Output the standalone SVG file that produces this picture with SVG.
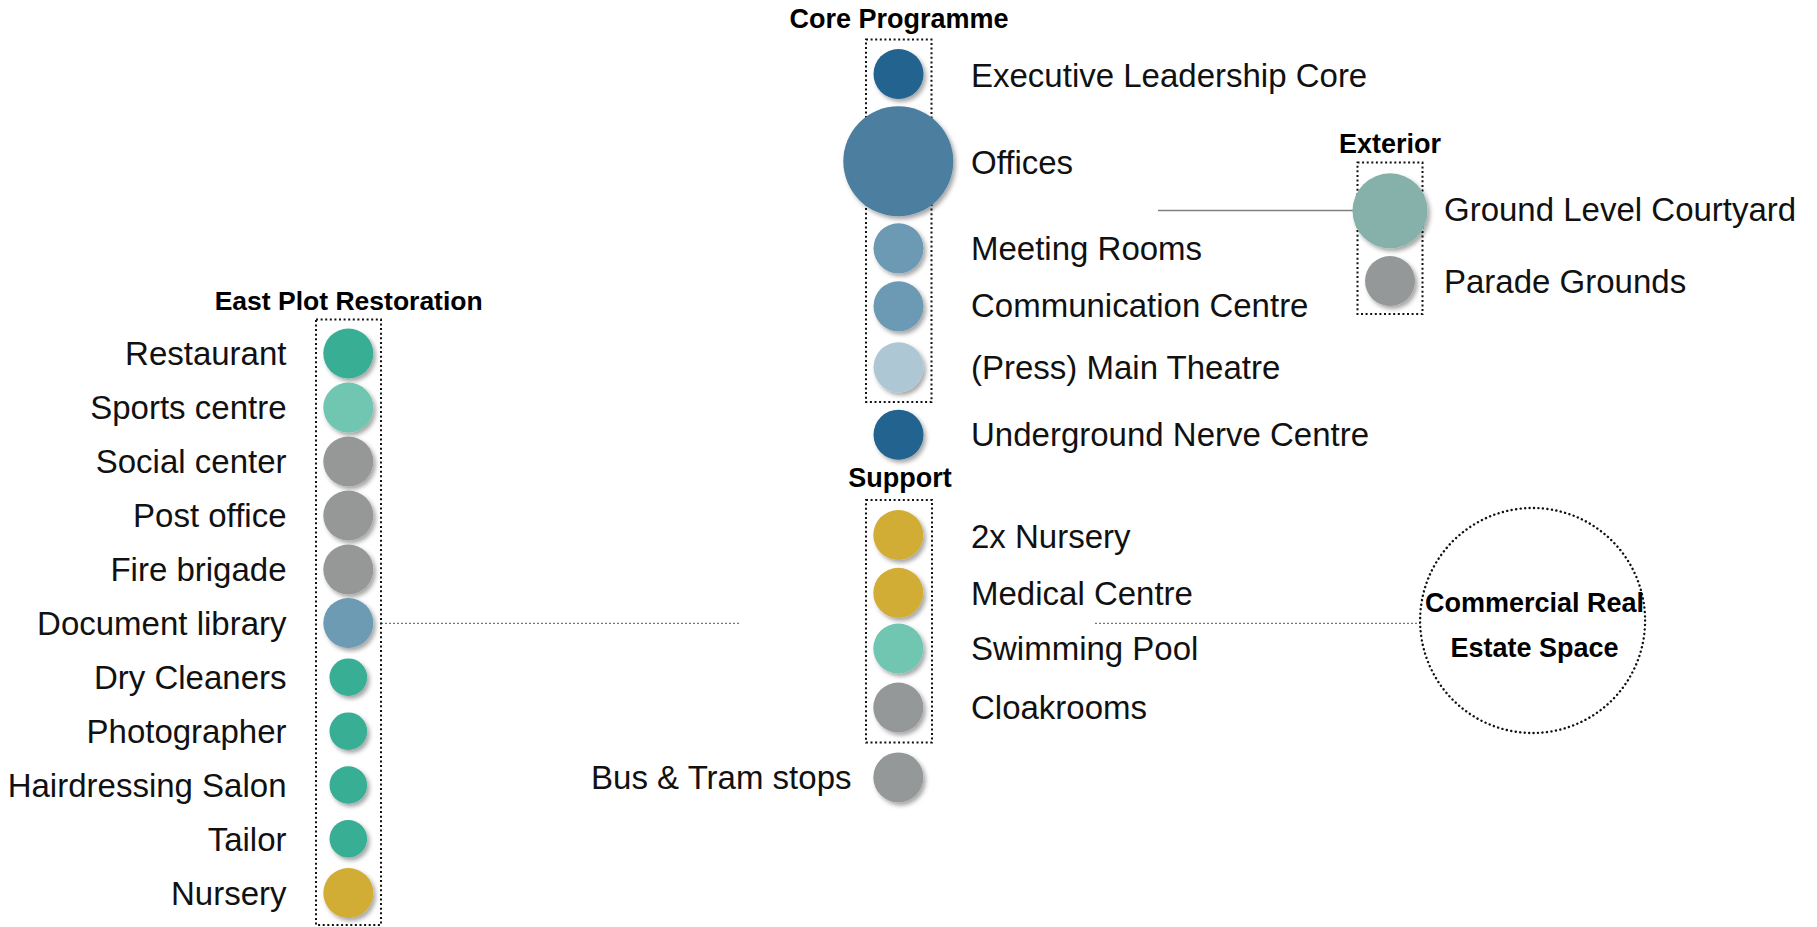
<svg xmlns="http://www.w3.org/2000/svg" width="1817" height="927" viewBox="0 0 1817 927">
<style>
.lbl{font-family:"Liberation Sans",Arial,sans-serif;font-size:33px;fill:#111}
.hdr{font-family:"Liberation Sans",Arial,sans-serif;font-size:27px;font-weight:bold;fill:#000;text-anchor:middle}
.end{text-anchor:end}
.box{fill:none;stroke:#111;stroke-width:2;stroke-dasharray:2 2.6}
.dot{filter:url(#sh)}
.conn{fill:none;stroke:#777;stroke-width:1.3;stroke-dasharray:2 2}
</style>
<defs>
<filter id="sh" x="-30%" y="-30%" width="160%" height="160%">
<feDropShadow dx="2.5" dy="3" stdDeviation="2" flood-color="#000" flood-opacity="0.35"/>
</filter>
</defs>
<rect width="1817" height="927" fill="#fff"/>

<g id="connectors">
<line x1="1158" y1="210.5" x2="1353" y2="210.5" stroke="#808080" stroke-width="1.6"/>
<line class="conn" x1="381" y1="623.3" x2="741" y2="623.3"/>
<line class="conn" x1="1095" y1="623.3" x2="1420" y2="623.3"/>
</g>

<g id="core-programme">
<text class="hdr" x="899" y="28">Core Programme</text>
<rect class="box" x="866" y="39.5" width="65.5" height="362.5"/>
<g id="exec"><circle class="dot" cx="898.5" cy="74" r="25" fill="#20638f"/><text class="lbl" x="971" y="87">Executive Leadership Core</text></g>
<g id="offices"><circle class="dot" cx="898.3" cy="161.3" r="55" fill="#4b7e9f"/><text class="lbl" x="971" y="173.5">Offices</text></g>
<g id="meeting"><circle class="dot" cx="898.5" cy="248.3" r="25" fill="#6c99b3"/><text class="lbl" x="971" y="259.5">Meeting Rooms</text></g>
<g id="communication"><circle class="dot" cx="898.5" cy="306.3" r="25" fill="#6c99b3"/><text class="lbl" x="971" y="317">Communication Centre</text></g>
<g id="theatre"><circle class="dot" cx="898.5" cy="367.3" r="25" fill="#adc7d5"/><text class="lbl" x="971" y="378.5">(Press) Main Theatre</text></g>
</g>
<g id="underground"><circle class="dot" cx="898.5" cy="434.7" r="25" fill="#20638f"/><text class="lbl" x="971" y="445.5">Underground Nerve Centre</text></g>

<g id="exterior">
<text class="hdr" x="1390" y="153">Exterior</text>
<rect class="box" x="1357.5" y="162.5" width="65" height="151.5"/>
<g id="courtyard"><circle class="dot" cx="1390" cy="210.8" r="37.5" fill="#86b1ab"/><text class="lbl" x="1444" y="221">Ground Level Courtyard</text></g>
<g id="parade"><circle class="dot" cx="1390" cy="281" r="25" fill="#959898"/><text class="lbl" x="1444" y="293">Parade Grounds</text></g>
</g>

<g id="east-plot">
<text class="hdr" x="348.7" y="310" style="font-size:26.5px">East Plot Restoration</text>
<rect class="box" x="316" y="319.5" width="65" height="605.5"/>
<g id="restaurant"><circle class="dot" cx="348.3" cy="353.5" r="25" fill="#38ae95"/><text class="lbl end" x="286.5" y="364.5">Restaurant</text></g>
<g id="sports"><circle class="dot" cx="348.3" cy="407.6" r="25" fill="#6fc6b0"/><text class="lbl end" x="286.5" y="418.5">Sports centre</text></g>
<g id="social"><circle class="dot" cx="348.3" cy="461.5" r="25" fill="#959896"/><text class="lbl end" x="286.5" y="472.5">Social center</text></g>
<g id="post"><circle class="dot" cx="348.3" cy="515.5" r="25" fill="#959896"/><text class="lbl end" x="286.5" y="527">Post office</text></g>
<g id="fire"><circle class="dot" cx="348.3" cy="569.5" r="25" fill="#959896"/><text class="lbl end" x="286.5" y="580.5">Fire brigade</text></g>
<g id="document"><circle class="dot" cx="348.3" cy="623" r="25" fill="#6e9bb4"/><text class="lbl end" x="286.5" y="634.5">Document library</text></g>
<g id="dry"><circle class="dot" cx="348.3" cy="677.2" r="18.8" fill="#38ae95"/><text class="lbl end" x="286.5" y="688.5">Dry Cleaners</text></g>
<g id="photo"><circle class="dot" cx="348.3" cy="731.2" r="18.8" fill="#38ae95"/><text class="lbl end" x="286.5" y="742.5">Photographer</text></g>
<g id="hair"><circle class="dot" cx="348.3" cy="785" r="18.8" fill="#38ae95"/><text class="lbl end" x="286.5" y="796.5">Hairdressing Salon</text></g>
<g id="tailor"><circle class="dot" cx="348.3" cy="838.8" r="18.8" fill="#38ae95"/><text class="lbl end" x="286.5" y="850.5">Tailor</text></g>
<g id="nursery"><circle class="dot" cx="348.3" cy="893" r="25" fill="#d1ad35"/><text class="lbl end" x="286.5" y="904.5">Nursery</text></g>
</g>

<g id="support">
<text class="hdr" x="900" y="487">Support</text>
<rect class="box" x="866" y="500" width="66" height="242.5"/>
<g id="nursery2"><circle class="dot" cx="898.3" cy="535" r="25" fill="#d1ad35"/><text class="lbl" x="971" y="548">2x Nursery</text></g>
<g id="medical"><circle class="dot" cx="898.3" cy="592.8" r="25" fill="#d1ad35"/><text class="lbl" x="971" y="605">Medical Centre</text></g>
<g id="pool"><circle class="dot" cx="898.3" cy="648.5" r="25" fill="#6fc6b0"/><text class="lbl" x="971" y="660">Swimming Pool</text></g>
<g id="cloak"><circle class="dot" cx="898.3" cy="707.5" r="25" fill="#959898"/><text class="lbl" x="971" y="718.5">Cloakrooms</text></g>
</g>
<g id="bus"><circle class="dot" cx="898.3" cy="777.4" r="25" fill="#959898"/><text class="lbl end" x="851.5" y="788.5">Bus &amp; Tram stops</text></g>

<g id="commercial">
<circle cx="1532.6" cy="620.5" r="112.5" fill="none" stroke="#111" stroke-width="2.4" stroke-dasharray="0.1 4.4" stroke-linecap="round"/>
<text class="hdr" x="1534.5" y="611.5">Commercial Real</text>
<text class="hdr" x="1534.5" y="656.5">Estate Space</text>
</g>
</svg>
